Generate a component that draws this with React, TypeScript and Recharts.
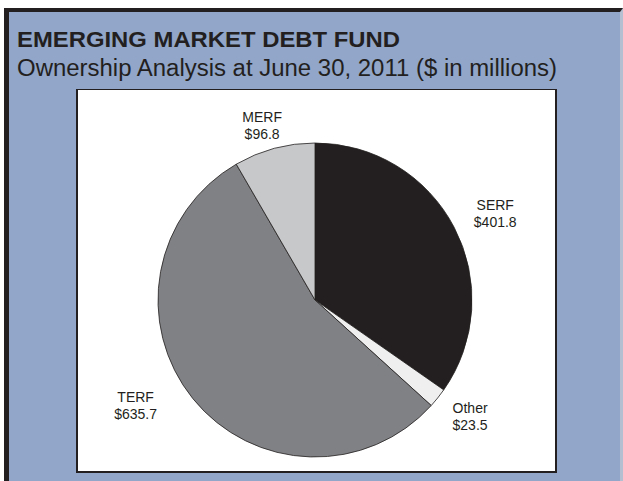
import React from "react";
import { PieChart, Pie, Cell } from "recharts";

const TITLE = "EMERGING MARKET DEBT FUND";
const SUBTITLE = "Ownership Analysis at June 30, 2011 ($ in millions)";

const categories = ["SERF", "Other", "TERF", "MERF"];
const values = [401.8, 23.5, 635.7, 96.8];
const valueLabels = ["$401.8", "$23.5", "$635.7", "$96.8"];
const colors = ["#231f20", "#efefef", "#808184", "#c7c8ca"];

const data = categories.map((name, i) => ({ name, value: values[i], label: valueLabels[i] }));

const NUDGE: Record<string, [number, number]> = {
  SERF: [10, 2],
  Other: [5, -4],
  TERF: [-30, -16],
  MERF: [-3, 10],
};

const FONT = "'Liberation Sans', Arial, Helvetica, sans-serif";
const DARK = "#231f20";

const renderLabel = (props: any) => {
  const { cx, cy, midAngle, outerRadius, payload, name } = props;
  const RAD = Math.PI / 180;
  const r = outerRadius + 35;
  const key = name ?? payload?.name;
  const [dx, dy] = NUDGE[key] || [0, 0];
  const x = cx + r * Math.cos(-midAngle * RAD) + dx;
  const y = cy + r * Math.sin(-midAngle * RAD) + dy;
  return (
    <text x={x} y={y} textAnchor="middle" fill={DARK} fontFamily={FONT} fontSize={14}>
      <tspan x={x} dy={-3}>{key}</tspan>
      <tspan x={x} dy={17}>{payload?.label}</tspan>
    </text>
  );
};

export default function App() {
  return (
    <div style={{ position: "absolute", left: 0, top: 0, width: 623, height: 481, background: "#ffffff", overflow: "hidden" }}>
      <div
        style={{
          position: "absolute",
          left: 4,
          top: 8,
          width: 619,
          height: 473,
          boxSizing: "border-box",
          background: "#91a6c9",
          borderTop: `4px solid ${DARK}`,
          borderLeft: `5px solid ${DARK}`,
          borderRight: "3px solid #b4bfd2",
        }}
      />
      <svg width={623} height={100} style={{ position: "absolute", left: 0, top: 0 }}>
        <text x={17} y={46.5} fontFamily={FONT} fontWeight="bold" fontSize={22} fill={DARK} textLength={383} lengthAdjust="spacingAndGlyphs">
          {TITLE}
        </text>
        <text x={17} y={75.5} fontFamily={FONT} fontSize={23} fill={DARK} textLength={540} lengthAdjust="spacingAndGlyphs">
          {SUBTITLE}
        </text>
      </svg>
      <div
        style={{
          position: "absolute",
          left: 76,
          top: 89,
          width: 481,
          height: 384,
          boxSizing: "border-box",
          background: "#ffffff",
          borderTop: `1px solid ${DARK}`,
          borderLeft: `2px solid ${DARK}`,
          borderRight: `2px solid ${DARK}`,
          borderBottom: `2px solid ${DARK}`,
        }}
      >
        <PieChart width={477} height={381} margin={{ top: 0, right: 0, bottom: 0, left: 0 }}>
          <Pie
            data={data}
            dataKey="value"
            nameKey="name"
            cx={237}
            cy={210}
            outerRadius={157}
            innerRadius={0}
            startAngle={90}
            endAngle={-270}
            stroke={DARK}
            strokeWidth={0.8}
            label={renderLabel}
            labelLine={false}
            isAnimationActive={false}
          >
            {data.map((d, i) => (
              <Cell key={d.name} fill={colors[i]} />
            ))}
          </Pie>
        </PieChart>
      </div>
    </div>
  );
}
